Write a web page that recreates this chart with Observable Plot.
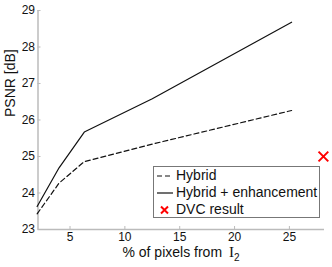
<!DOCTYPE html>
<html>
<head>
<meta charset="utf-8">
<script src="https://cdn.jsdelivr.net/npm/d3@7"></script>
<script src="https://cdn.jsdelivr.net/npm/@observablehq/plot@0.6"></script>
<style>
  html, body { margin: 0; padding: 0; background: #fff; }
  #wrap { position: relative; width: 332px; height: 267px; font-family: "Liberation Sans", Arial, sans-serif; }
  #legend { position: absolute; left: 153px; top: 166px; width: 167px; height: 52px; border: 1px solid #777; background: #fff; box-sizing: border-box; font-size: 14px; color: #111; }
  .row { position: absolute; left: 0; height: 17px; line-height: 17px; display: flex; align-items: center; }
  .row svg { margin-left: 2px; margin-right: 3px; }
  #xlabel { position: absolute; left: 0; width: 362px; top: 245px; height: 14px; line-height: 14px; text-align: center; font-size: 14px; color: #111; white-space: nowrap; }
  #xlabel .I { font-family: "Liberation Serif", "Times New Roman", serif; font-size: 15px; margin-left: 3px; line-height: 14px; }
  #xlabel sub { font-size: 10px; vertical-align: -4px; line-height: 10px; }
</style>
</head>
<body>
<div id="wrap"></div>
<script>
const pctHybrid = [2.0, 4.0, 6.3, 12.5, 25.2];
const psnrHybrid = [23.43, 24.27, 24.86, 25.34, 26.26];
const pctEnh = [2.0, 4.0, 6.3, 12.5, 25.2];
const psnrEnh = [23.63, 24.69, 25.67, 26.58, 28.68];
const dvcPct = [28.1];
const dvcPsnr = [25.0];
const xTicks = [5, 10, 15, 20, 25];
const yTicks = [23, 24, 25, 26, 27, 28, 29];

const hybrid = pctHybrid.map((x, i) => ({x, y: psnrHybrid[i]}));
const enh = pctEnh.map((x, i) => ({x, y: psnrEnh[i]}));
const dvc = dvcPct.map((x, i) => ({x, y: dvcPsnr[i]}));

const chart = Plot.plot({
  width: 332,
  height: 267,
  marginLeft: 37.5,
  marginRight: 8,
  marginTop: 10,
  marginBottom: 38,
  style: {fontFamily: "Liberation Sans, Arial, sans-serif", fontSize: "12px", color: "#111", background: "#fff"},
  x: {domain: [2.08, 28.2]},
  y: {domain: [23, 29]},
  marks: [
    Plot.ruleY([23], {stroke: "#bbb", strokeWidth: 1.5}),
    Plot.ruleX([2.08], {stroke: "#bbb", strokeWidth: 1.5}),
    Plot.axisX(xTicks, {tickSize: -3, stroke: "#bbb", tickPadding: 6, label: null, fontSize: 12, fill: "#111"}),
    Plot.axisY(yTicks, {tickSize: -3, stroke: "#bbb", tickPadding: 6, label: null, fontSize: 12, fill: "#111"}),
    Plot.text(["PSNR [dB]"], {frameAnchor: "left", dx: -27, dy: -3, rotate: -90, fontSize: 14, fill: "#111"}),
    Plot.line(hybrid, {x: "x", y: "y", stroke: "#111", strokeWidth: 1.2, strokeDasharray: "5,3"}),
    Plot.line(enh, {x: "x", y: "y", stroke: "#111", strokeWidth: 1.2}),
    Plot.dot(dvc, {x: "x", y: "y", symbol: "times", r: 4.5, stroke: "#f00", strokeWidth: 2})
  ]
});

const wrap = document.getElementById("wrap");
wrap.appendChild(chart);

const legendItems = [
  {label: "Hybrid", kind: "dash"},
  {label: "Hybrid + enhancement", kind: "solid"},
  {label: "DVC result", kind: "x"}
];
const legend = document.createElement("div");
legend.id = "legend";
legendItems.forEach((it, i) => {
  const row = document.createElement("div");
  row.className = "row";
  row.style.top = (0 + i * 17) + "px";
  let sw;
  if (it.kind === "dash") sw = '<svg width="17" height="10"><line x1="1" y1="5" x2="17" y2="5" stroke="#111" stroke-width="1.2" stroke-dasharray="5,3"/></svg>';
  else if (it.kind === "solid") sw = '<svg width="17" height="10"><line x1="1" y1="5" x2="17" y2="5" stroke="#111" stroke-width="1.2"/></svg>';
  else sw = '<svg width="17" height="10"><path d="M5,1.5L12,8.5M12,1.5L5,8.5" stroke="#f00" stroke-width="2"/></svg>';
  row.innerHTML = sw + '<span>' + it.label + '</span>';
  legend.appendChild(row);
});
wrap.appendChild(legend);

const xl = document.createElement("div");
xl.id = "xlabel";
xl.innerHTML = '% of pixels from <span class="I">I</span><sub>2</sub>';
wrap.appendChild(xl);
</script>
</body>
</html>
